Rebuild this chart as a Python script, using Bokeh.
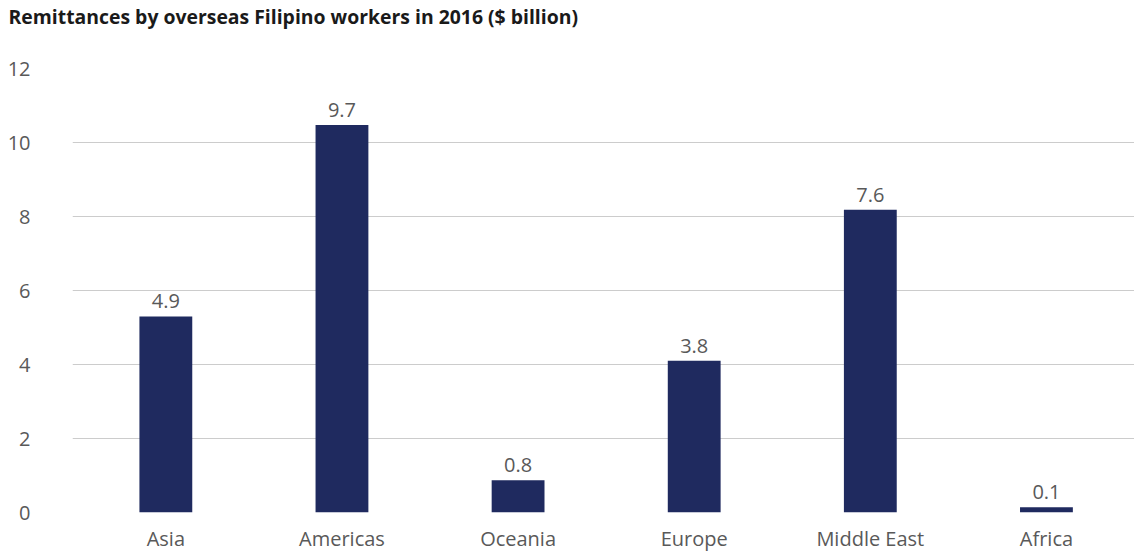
from bokeh.plotting import figure
from bokeh.models import ColumnDataSource, Range1d, FixedTicker, Title
from bokeh.core.properties import value
from bokeh.embed import file_html
from bokeh.resources import INLINE
import numpy as np

categories = ["Asia", "Americas", "Oceania", "Europe", "Middle East", "Africa"]
bar_values = [5.30, 10.47, 0.87, 4.10, 8.18, 0.14]
label_values = ["4.9", "9.7", "0.8", "3.8", "7.6", "0.1"]
y_ticks = [0, 2, 4, 6, 8, 10, 12]
title_text = "Remittances by overseas Filipino workers in 2016 ($ billion)"

FONT = "Open Sans"
TEXT = "#595959"
BAR = "#1f2a5f"

xs = np.arange(len(categories)) + 0.5
src = ColumnDataSource(dict(x=xs, top=bar_values, lab=label_values))

p = figure(width=1134, height=554, output_backend="svg", toolbar_location=None,
           x_range=Range1d(-0.03, 6.0), y_range=Range1d(0, 12),
           min_border_left=72, min_border_right=0, min_border_top=0, min_border_bottom=0)

p.title.text = title_text
p.title.text_font = FONT
p.title.text_font_size = "19.4px"
p.title.text_font_style = "bold"
p.title.text_color = "#1a1a1a"
p.title.align = "left"
p.title.offset = -64
p.title.standoff = 0

spacer = Title(text=" ", text_font_size="33px", standoff=0)
p.add_layout(spacer, "above")

p.vbar(x="x", top="top", width=0.3, source=src, color=BAR, line_color=None)
p.text(x="x", y="top", text="lab", source=src, text_align="center",
       text_baseline="alphabetic", y_offset=-15, text_font=value(FONT),
       text_font_size="20px", text_color=TEXT)

p.outline_line_color = None
p.xgrid.grid_line_color = None
p.ygrid.grid_line_color = "#cccccc"
p.ygrid.grid_line_width = 1
p.ygrid.ticker = FixedTicker(ticks=y_ticks)

p.yaxis.ticker = FixedTicker(ticks=y_ticks)
p.yaxis.axis_line_color = None
p.yaxis.major_tick_line_color = None
p.yaxis.minor_tick_line_color = None
p.yaxis.major_label_standoff = 36
p.yaxis.major_label_text_font = FONT
p.yaxis.major_label_text_font_size = "20px"
p.yaxis.major_label_text_color = TEXT

p.xaxis.ticker = FixedTicker(ticks=list(xs))
p.xaxis.major_label_overrides = {float(x): c for x, c in zip(xs, categories)}
p.xaxis.axis_line_color = None
p.xaxis.major_tick_line_color = None
p.xaxis.minor_tick_line_color = None
p.xaxis.major_label_standoff = 6
p.xaxis.major_label_text_font = FONT
p.xaxis.major_label_text_font_size = "20px"
p.xaxis.major_label_text_color = TEXT

open("out.html", "w").write(file_html(p, INLINE))
